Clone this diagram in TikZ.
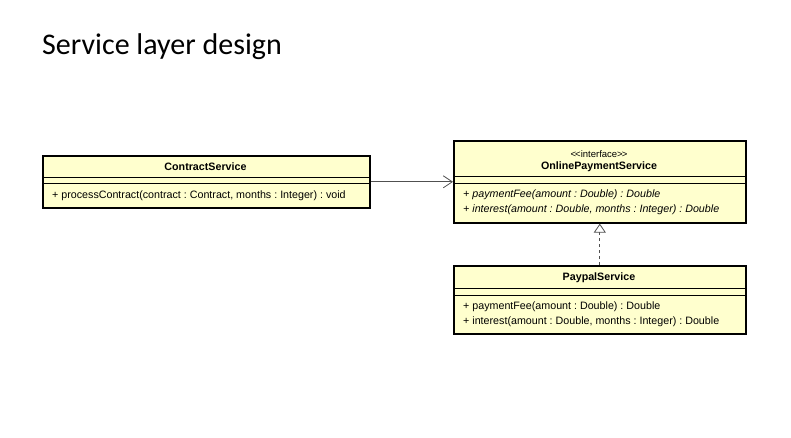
\documentclass[tikz,border=0pt]{standalone}
\usepackage{fontspec}
\setmainfont{Liberation Sans}
\newfontfamily\titlefont{Carlito}
\usetikzlibrary{arrows.meta,positioning}
\definecolor{umlfill}{RGB}{255,255,206}
\definecolor{umlline}{RGB}{80,80,80}
\frenchspacing

\begin{document}
\begin{tikzpicture}[x=1pt,y=-1pt,font=\fontsize{10.7}{12}\selectfont,
	classbox/.style={draw=black,line width=1.6pt,fill=umlfill,anchor=north west,inner sep=0pt},
	op/.style={anchor=west,inner sep=0pt},
	sep/.style={draw=black,line width=0.8pt}]
	\useasboundingbox (0,0) rectangle (791,437);
	\node[anchor=west,inner sep=0pt,font=\titlefont\fontsize{30}{34}\selectfont] (title) at (42,47) {Service layer design};

	% ContractService
	\node[classbox,minimum width=327pt,minimum height=52pt] (cs) at (42,155) {};
	\node[font=\fontsize{10.7}{12}\selectfont\bfseries] (csname) at (205.5,167) {ContractService};
	\draw[sep] (42,177) -- (369,177);
	\draw[sep] (42,183) -- (369,183);
	\node[op] (csop) at (52,196) {+ processContract(contract : Contract, months : Integer) : void};

	% OnlinePaymentService
	\node[classbox,minimum width=292pt,minimum height=82pt] (ops) at (453,140) {};
	\node[font=\fontsize{9.5}{11}\selectfont] (opsst) at (599,154) {<\kern-1pt<interface>\kern-1pt>};
	\node[font=\fontsize{10.7}{12}\selectfont\bfseries] (opsname) at (599,167) {OnlinePaymentService};
	\draw[sep] (453,176) -- (745,176);
	\draw[sep] (453,183) -- (745,183);
	\node[op,font=\fontsize{10.7}{12}\selectfont\itshape] (opsop1) at (463,195) {+ paymentFee(amount : Double) : Double};
	\node[op,font=\fontsize{10.7}{12}\selectfont\itshape] (opsop2) at (463,210) {+ interest(amount : Double, months : Integer) : Double};

	% PaypalService
	\node[classbox,minimum width=292pt,minimum height=68pt] (pps) at (453,265) {};
	\node[font=\fontsize{10.7}{12}\selectfont\bfseries] (ppsname) at (599,278) {PaypalService};
	\draw[sep] (453,288) -- (745,288);
	\draw[sep] (453,295) -- (745,295);
	\node[op] (ppsop1) at (463,307) {+ paymentFee(amount : Double) : Double};
	\node[op] (ppsop2) at (463,322) {+ interest(amount : Double, months : Integer) : Double};

	% relations
	\draw[umlline,line width=0.8pt,-{Straight Barb[length=9pt,width=12pt]}] (cs.east) -- (ops.west);
	\draw[umlline,line width=0.8pt,dashed,-{Triangle[open,length=9pt,width=12pt,fill=white]}] (pps.north) -- (ops.south);
\end{tikzpicture}
\end{document}
